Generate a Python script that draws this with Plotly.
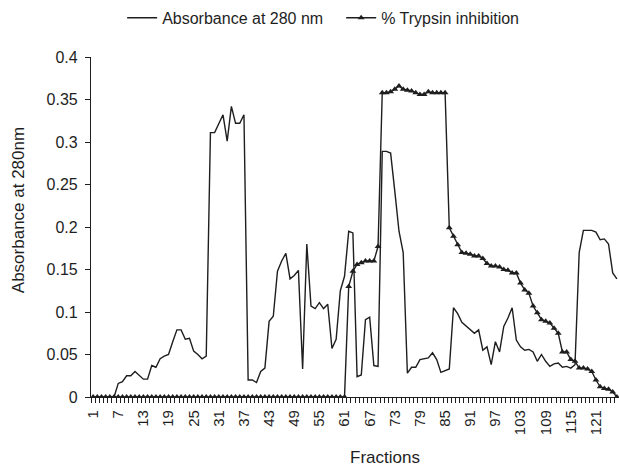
import plotly.graph_objects as go

fractions = list(range(1, 127))

absorbance = [
    0, 0, 0, 0, 0, 0,
    0.016, 0.018, 0.025, 0.025, 0.030, 0.026, 0.021, 0.021, 0.037, 0.035,
    0.045, 0.048, 0.050, 0.065, 0.079, 0.079, 0.068, 0.069, 0.054, 0.050,
    0.045, 0.048,
    0.311, 0.311, 0.321, 0.332, 0.301, 0.342, 0.322, 0.322, 0.332,
    0.020, 0.020, 0.017, 0.030, 0.034, 0.089, 0.095, 0.148, 0.160, 0.169,
    0.139, 0.143, 0.149, 0.033, 0.180, 0.107, 0.104, 0.111, 0.104, 0.109,
    0.057, 0.068, 0.125, 0.142, 0.195, 0.193, 0.024, 0.026, 0.091, 0.094,
    0.037, 0.036,
    0.289, 0.289, 0.287, 0.242, 0.195, 0.170,
    0.028, 0.035, 0.035, 0.044, 0.045, 0.046, 0.052, 0.044, 0.029, 0.031, 0.033,
    0.105, 0.098, 0.088, 0.084, 0.080, 0.075, 0.079, 0.055, 0.059, 0.038,
    0.065, 0.053, 0.083, 0.093, 0.105,
    0.067, 0.059, 0.055, 0.056, 0.053, 0.042, 0.050, 0.042, 0.036, 0.039,
    0.040, 0.035, 0.036, 0.034, 0.038,
    0.170, 0.196, 0.196, 0.196, 0.194, 0.185, 0.186, 0.180, 0.146, 0.139,
]

trypsin = [0] * 61 + [
    0.130, 0.148, 0.156, 0.158, 0.160, 0.160, 0.160, 0.177,
    0.358, 0.358, 0.359, 0.362, 0.366, 0.362, 0.361, 0.360, 0.358, 0.356,
    0.356, 0.359, 0.358, 0.358, 0.358, 0.358,
    0.199, 0.189, 0.179, 0.170, 0.169, 0.168, 0.166, 0.166,
    0.163, 0.157, 0.154, 0.154, 0.153, 0.150, 0.149, 0.146, 0.146,
    0.134, 0.126, 0.122, 0.107, 0.099, 0.091, 0.089, 0.087, 0.081, 0.075,
    0.053, 0.053, 0.044, 0.042, 0.034, 0.034, 0.033, 0.030, 0.020, 0.012,
    0.010, 0.009, 0.006, 0.0,
]

x_tick_labels = [str(v) for v in range(1, 122, 6)]
y_tick_vals = [0, 0.05, 0.1, 0.15, 0.2, 0.25, 0.3, 0.35, 0.4]
y_tick_text = ["0", "0.05", "0.1", "0.15", "0.2", "0.25", "0.3", "0.35", "0.4"]

ink = "#1e1e1e"
font = "Liberation Sans, Arial, sans-serif"

fig = go.Figure()
fig.add_trace(go.Scatter(
    x=fractions, y=absorbance, mode="lines", name="Absorbance at 280 nm",
    line=dict(color=ink, width=1.4),
))
fig.add_trace(go.Scatter(
    x=fractions, y=trypsin, mode="lines+markers", name="% Trypsin inhibition",
    line=dict(color=ink, width=1.4),
    marker=dict(symbol="triangle-up", size=6, color=ink),
))

fig.update_layout(
    width=619, height=468,
    margin=dict(l=91, r=0, t=57, b=71, autoexpand=False),
    paper_bgcolor="white", plot_bgcolor="white",
    font=dict(family=font, size=16, color=ink),
    showlegend=True,
    legend=dict(orientation="h", x=0.059, xanchor="left", y=1.115, yanchor="middle",
                font=dict(size=16, color=ink), bgcolor="rgba(0,0,0,0)",
                itemwidth=30, tracegroupgap=0, entrywidth=174, entrywidthmode="pixels"),
    annotations=[
        dict(text="Fractions", xref="paper", yref="paper", x=0.557, y=-0.179,
             xanchor="center", yanchor="middle", showarrow=False,
             font=dict(size=17, color=ink)),
        dict(text="Absorbance at 280nm", xref="paper", yref="paper", x=-0.136, y=0.55,
             xanchor="center", yanchor="middle", showarrow=False, textangle=-90,
             font=dict(size=17, color=ink)),
    ],
)

fig.update_xaxes(
    range=[0.5, 126.5], tickmode="array", tickvals=list(range(1, 122, 6)),
    ticktext=x_tick_labels, tickangle=-90, ticks="", showgrid=False, zeroline=False,
    showline=True, linecolor=ink, linewidth=1.2, tickfont=dict(size=15, color=ink),
    automargin=False, ticklabelstandoff=6,
    minor=dict(tickmode="array", tickvals=[k + 0.5 for k in range(0, 127)],
               ticks="outside", ticklen=5, tickcolor=ink, tickwidth=1, showgrid=False),
)
fig.update_yaxes(
    range=[0, 0.4], tickmode="array", tickvals=y_tick_vals, ticktext=y_tick_text,
    ticks="outside", ticklen=5, tickcolor=ink, showgrid=False, zeroline=False,
    showline=True, linecolor=ink, linewidth=1.2, tickfont=dict(size=16, color=ink),
    ticklabelstandoff=4, automargin=False,
)

fig.write_html(
    "out.html",
    config={"displayModeBar": False},
    post_script="document.body.style.margin='0';document.body.style.overflow='hidden';",
)
